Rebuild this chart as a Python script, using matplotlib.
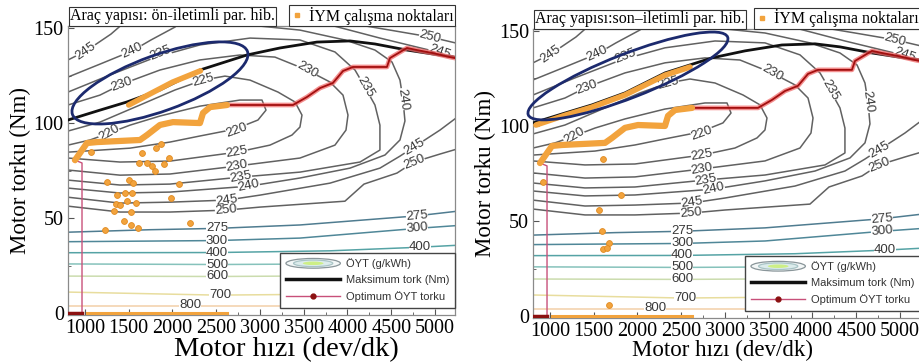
import matplotlib
matplotlib.use("Agg")
import matplotlib.pyplot as plt
from matplotlib import transforms
from matplotlib.lines import Line2D
from matplotlib.patches import Ellipse
from matplotlib.legend_handler import HandlerBase
from matplotlib.ticker import MultipleLocator

plt.rcParams['font.family'] = ['Liberation Serif', 'DejaVu Serif']

# --- BSFC (g/kWh) iso-lines of the engine map, speed in rpm, torque in Nm ---
c220_rpm = [806, 1514, 1971, 2314, 2714, 2977, 3069, 3023, 2771, 2314, 1857, 1514, 1274, 1057, 806]
c220_nm = [84.7, 86.8, 90.0, 93.2, 96.8, 101.6, 106.8, 112.1, 112.1, 108.9, 103.7, 98.9, 94.7, 91.1, 88.4]

c225_rpm = [806, 1400, 1971, 2737, 3114, 3366, 3457, 3480, 3400, 3206, 2886, 2600, 2349, 2029, 1629, 1171, 806]
c225_nm = [81.6, 79.5, 80.0, 84.7, 88.4, 93.7, 97.9, 104.2, 111.1, 116.3, 122.6, 124.7, 122.6, 117.4, 109.5, 100.5, 95.8]

c230_rpm = [806, 1400, 1971, 2737, 3457, 3857, 3983, 4006, 3949, 3800, 3537, 3171, 2771, 2314, 1857, 1423, 1171, 806]
c230_nm = [75.3, 72.6, 73.2, 77.4, 81.6, 88.4, 96.3, 104.2, 114.7, 121.6, 127.9, 134.7, 135.8, 133.2, 127.9, 120.5, 114.7, 109.5]

c235_rpm = [806, 1400, 1971, 2783, 3457, 4143, 4371, 4371, 4314, 4200, 4086, 3857, 3457, 2886, 2314, 1811, 1286, 806]
c235_nm = [70.0, 67.4, 67.9, 71.6, 74.2, 79.5, 85.8, 98.9, 109.5, 118.9, 127.9, 137.4, 143.7, 144.7, 141.1, 134.7, 125.3, 116.3]

c240_rpm = [806, 1400, 1971, 2874, 3457, 4029, 4429, 4600, 4657, 4634, 4600, 4509, 4314, 3971, 3457,
            3000, 2771, 2143, 2029, 1754, 1537, 1171, 806]
c240_nm = [65.8, 63.2, 63.7, 66.8, 71.1, 76.3, 83.2, 91.1, 101.1, 112.6, 122.6, 132.1, 138.4, 143.7, 148.9,
           151.0, 156.0, 156.0, 150.5, 143.7, 137.9, 131.0, 124.2]

c245_rpm = [806, 1400, 1971, 2623, 3000, 3800, 4371, 4600, 4760, 5057, 5286, 5400, 5400, 5286, 5023, 4371,
            3800, 3457, 2500, 1457, 1297, 1011, 806]
c245_nm = [61.0, 57.9, 58.4, 59.5, 62.1, 68.4, 76.3, 82.6, 87.4, 96.3, 104.2, 110.0, 130.0, 134.2, 137.4, 144.7,
           151.6, 155.3, 160.0, 153.2, 146.8, 137.9, 133.2]

c250_rpm = [806, 1400, 1971, 2611, 3000, 3971, 4189, 4566, 4760, 5057, 5286, 5400, 5400, 5286, 4943, 4486, 3800]
c250_nm = [56.3, 53.2, 53.2, 54.2, 55.8, 58.9, 67.9, 73.7, 79.5, 83.7, 86.8, 100.0, 140.0, 141.6, 145.3, 148.9, 154.2]

c275_rpm = [806, 1743, 2509, 3457, 4794, 5286]
c275_nm = [42.6, 43.9, 44.6, 46.4, 51.2, 53.8]
c300_rpm = [806, 2509, 3457, 4794, 5286]
c300_nm = [37.6, 38.2, 39.5, 44.6, 46.2]
c400_rpm = [806, 2509, 3800, 4829, 5286]
c400_nm = [31.8, 31.9, 32.8, 34.7, 35.8]
c500_rpm = [806, 2509, 3800, 5286]
c500_nm = [25.9, 25.6, 25.9, 26.5]
c600_rpm = [806, 2509, 5286]
c600_nm = [19.5, 19.3, 20.0]
c700_rpm = [806, 2509, 3800, 5286]
c700_nm = [11.1, 9.5, 10.0, 10.5]
c800_rpm = [806, 2200, 5286]
c800_nm = [3.7, 3.7, 3.7]

# inline contour labels
lab_text = ['245', '240', '235', '230', '225', '220', '220', '230', '235', '240', '250', '245',
            '225', '230', '235', '240', '245', '250', '245', '250',
            '275', '300', '400', '500', '600', '700', '800', '275', '300', '400']
lab_rpm = [1011, 1537, 1857, 1423, 2349, 1274, 2737, 3537, 4200, 4634, 4943, 5050,
           2737, 2737, 2783, 2874, 2623, 2611, 4760, 4760,
           2509, 2509, 2509, 2509, 2509, 2543, 2200, 4794, 4794, 4829]
lab_nm = [137.9, 137.9, 136.8, 120.5, 122.6, 94.7, 96.3, 127.9, 118.9, 112.6, 145.3, 137.4,
          84.7, 77.4, 71.6, 66.8, 59.5, 54.2, 87.4, 79.5,
          44.6, 38.2, 31.9, 25.6, 19.3, 9.5, 4.2, 51.2, 44.6, 34.7]
lab_rot = [35, 25, 22, 20, 15, 30, 20, -30, -60, -82, -15, -20,
           10, 10, 10, 12, 8, 5, 30, 22,
           0, 0, 0, 0, 0, 0, 0, 5, 5, 0]

# full-load (maximum) torque curve
max_rpm = [806, 1171, 1480, 1857, 2314, 2851, 3229, 3651, 4029, 4314, 4680, 5206, 5229]
max_nm = [101.6, 106.8, 111.1, 117.4, 127.9, 135.8, 139.5, 142.6, 143.2, 141.6, 138.4, 134.7, 134.5]

# optimum BSFC torque line
opt_rpm = [806, 966, 966, 886, 1023, 1137, 1629, 1709, 1857, 2006, 2314, 2349, 2429, 2623, 3377, 3537,
           3686, 3834, 3949, 4063, 4451, 4486, 4680, 4794, 4977, 5171, 5229]
opt_nm = [0, 0, 79, 80.5, 89.5, 90, 91.1, 93.7, 99, 100.5, 100, 105.3, 108.4, 109.5, 109.5, 113.7,
          118.4, 121.1, 127.4, 129.5, 129.5, 134.2, 139.5, 138.4, 136.8, 134.7, 134.2]

# engine operating points (ICE) that are not on the optimum line
idle_rpm = [1023, 2623]
idle_nm = [0, 0]

front_diag_rpm = [1500, 1750, 2000, 2320]
front_diag_nm = [109.5, 115.5, 121.5, 127.5]
front_pts_rpm = [1069, 1651, 1869, 1811, 1617, 1709, 1766, 1800, 1903, 1960, 1251, 1503, 1549, 2074, 1366,
                 1457, 1537, 1480, 1583, 1354, 1400, 1331, 1526, 1983, 1446, 1526, 1606, 1229, 2200]
front_pts_nm = [84.7, 84.2, 88.9, 86.8, 78.9, 78.9, 77.4, 74.7, 78.4, 81.6, 68.9, 70.0, 68.4, 67.9, 62.1,
                63.2, 63.2, 58.9, 57.9, 57.4, 56.8, 53.7, 53.2, 60.5, 48.4, 46.3, 44.7, 43.7, 47.4]

rear_diag_rpm = [840, 1171, 1480, 1857, 2314, 2600]
rear_diag_nm = [100.5, 105.6, 109.9, 116.3, 126.7, 131.0]
rear_pts_rpm = [920, 1606, 1811, 1560, 1594, 1674, 1606, 1651, 1674]
rear_pts_nm = [70.5, 82.6, 63.7, 55.8, 44.7, 38.4, 35.3, 35.8, 5.8]

ORANGE = '#f2a33d'
GREY = '#616161'

iso_lines = [
    (c220_rpm, c220_nm, GREY), (c225_rpm, c225_nm, GREY), (c230_rpm, c230_nm, GREY),
    (c235_rpm, c235_nm, GREY), (c240_rpm, c240_nm, GREY), (c245_rpm, c245_nm, GREY),
    (c250_rpm, c250_nm, GREY), (c275_rpm, c275_nm, '#4f7c90'), (c300_rpm, c300_nm, '#4f8798'),
    (c400_rpm, c400_nm, '#55a3a5'), (c500_rpm, c500_nm, '#86c2bb'), (c600_rpm, c600_nm, '#cbdcae'),
    (c700_rpm, c700_nm, '#e8dd9e'), (c800_rpm, c800_nm, '#f2cfa8'),
]


class BsfcHandler(HandlerBase):
    # little filled-contour icon for the legend
    def create_artists(self, legend, orig_handle, xdescent, ydescent, width, height, fontsize, trans):
        cx = width / 2 - xdescent
        cy = height / 2 - ydescent
        rings = []
        for sw, sh, fc, ec in [(1.0, 1.25, '#f3f7f7', '#8a969a'),
                               (0.72, 0.85, '#dcecec', '#a9c4c6'),
                               (0.38, 0.45, '#cdef86', 'none')]:
            rings.append(Ellipse((cx, cy), width * sw, height * sh, facecolor=fc,
                                 edgecolor=ec, lw=0.9, transform=trans))
        return rings


def draw_panel(fig, ax, title, diag_rpm, diag_nm, pts_rpm, pts_nm, ell, xlabel_size, xlabel_pos):
    # engine map
    for rpm, nm, col in iso_lines:
        ax.plot(rpm, nm, color=col, lw=1.1, zorder=1)
    for t, x, y, r in zip(lab_text, lab_rpm, lab_nm, lab_rot):
        ax.text(x, y, t, rotation=r, ha='center', va='center', rotation_mode='anchor',
                fontsize=9.5, color='#383838', family='Liberation Sans', zorder=2,
                bbox=dict(boxstyle='square,pad=0.0', fc='white', ec='none'), clip_on=True)

    ax.plot(max_rpm, max_nm, color='#111111', lw=2.0, zorder=3)

    # optimum line: thin lead-in, then the thick dotted red part
    ax.plot(opt_rpm[:4], opt_nm[:4], color='#c8507a', lw=1.0, zorder=4)
    ax.plot(opt_rpm[:2], opt_nm[:2], color='#8b1010', lw=2.5, zorder=4)
    ax.plot(opt_rpm[3:], opt_nm[3:], color='#f06a6a', lw=3.4, alpha=0.75, zorder=4)
    ax.plot(opt_rpm[3:], opt_nm[3:], color='#a30f0f', lw=1.3, zorder=4)

    # ICE operating points
    ax.plot(opt_rpm[3:14], opt_nm[3:14], color=ORANGE, lw=4.5, zorder=5, solid_capstyle='round')
    ax.plot(idle_rpm, idle_nm, color=ORANGE, lw=2.2, zorder=5)
    ax.plot(diag_rpm, diag_nm, color=ORANGE, lw=4.0, zorder=5, solid_capstyle='round')
    ax.plot(pts_rpm, pts_nm, ls='none', marker='o', ms=4.2, mfc=ORANGE, mec='#e08a20', mew=0.6, zorder=5)

    # highlighted region
    (cx, cy), w, h, ang = ell
    trans = fig.dpi_scale_trans + transforms.ScaledTranslation(cx, cy, ax.transData)
    ax.add_patch(Ellipse((0, 0), w, h, angle=ang, fill=False, ec='#1c2a6e', lw=2.0,
                         transform=trans, zorder=6, clip_on=False))

    ax.set_xlim(806, 5229)
    ax.set_ylim(-1, 151)
    ax.set_xticks(range(1000, 5001, 500))
    ax.set_yticks([0, 50, 100, 150])
    ax.xaxis.set_minor_locator(MultipleLocator(250))
    ax.yaxis.set_minor_locator(MultipleLocator(25))
    ax.tick_params(which='both', direction='in', color='#555555', labelsize=14.5, pad=3)
    ax.tick_params(which='major', length=4)
    ax.tick_params(which='minor', length=2.5)
    for s in ax.spines.values():
        s.set_color('#8a8a8a')
        s.set_linewidth(0.9)
    ax.set_xlabel('Motor hızı (dev/dk)', fontsize=xlabel_size)
    ax.xaxis.set_label_coords(xlabel_pos, -0.075)
    ax.set_ylabel('Motor torku (Nm)', fontsize=16.5, labelpad=2)

    # boxes above the plot
    ax.text(0.005, 1.006, title, transform=ax.transAxes, ha='left', va='bottom', fontsize=11.5,
            bbox=dict(boxstyle='square,pad=0.08', fc='white', ec='#333333', lw=0.8), zorder=10)
    iym = Line2D([], [], ls='none', marker='s', ms=3.2, mfc=ORANGE, mec=ORANGE)
    leg_top = ax.legend([iym], ['İYM çalışma noktaları'], loc='lower right', bbox_to_anchor=(1.0, 1.0),
                        borderaxespad=0, fancybox=False, framealpha=1, edgecolor='#333333',
                        prop={'family': 'Liberation Serif', 'size': 11.5}, handlelength=0.7,
                        handletextpad=0.4, borderpad=0.1, numpoints=1)
    leg_top.get_frame().set_linewidth(0.8)
    ax.add_artist(leg_top)

    bsfc = Ellipse((0, 0), 1, 1)
    handles = [bsfc,
               Line2D([], [], color='#111111', lw=2.5),
               Line2D([], [], color='#c8507a', lw=1.0, marker='o', ms=3.5, mfc='#8b1010', mec='#8b1010')]
    leg = ax.legend(handles, ['ÖYT (g/kWh)', 'Maksimum tork (Nm)', 'Optimum ÖYT torku'],
                    handler_map={bsfc: BsfcHandler()}, loc='lower right', bbox_to_anchor=(1.0, 0.025),
                    borderaxespad=0, fancybox=False, framealpha=1, edgecolor='#444444',
                    prop={'family': 'Liberation Sans', 'size': 8}, handlelength=4.9,
                    handletextpad=0.5, labelspacing=0.55, borderpad=0.5, numpoints=1)
    for txt in leg.get_texts():
        txt.set_color('#333333')
    leg.get_frame().set_linewidth(1.0)
    leg.set_zorder(12)


fig = plt.figure(figsize=(9.19, 3.63), dpi=100)
ax1 = fig.add_axes([0.074, 0.132, 0.4211, 0.7961])
ax2 = fig.add_axes([0.580, 0.124, 0.4211, 0.7961])

draw_panel(fig, ax1, 'Araç yapısı: ön-iletimli par. hib.', front_diag_rpm, front_diag_nm,
           front_pts_rpm, front_pts_nm, ((1857, 121.1), 1.86, 0.56, 19.8), 20.5, 0.563)
draw_panel(fig, ax2, 'Araç yapısı:son–iletimli par. hib.', rear_diag_rpm, rear_diag_nm,
           rear_pts_rpm, rear_pts_nm, ((1891, 126.3), 2.14, 0.44, 21.3), 16.5, 0.49)

fig.savefig('out.png', dpi=100, facecolor='white')
